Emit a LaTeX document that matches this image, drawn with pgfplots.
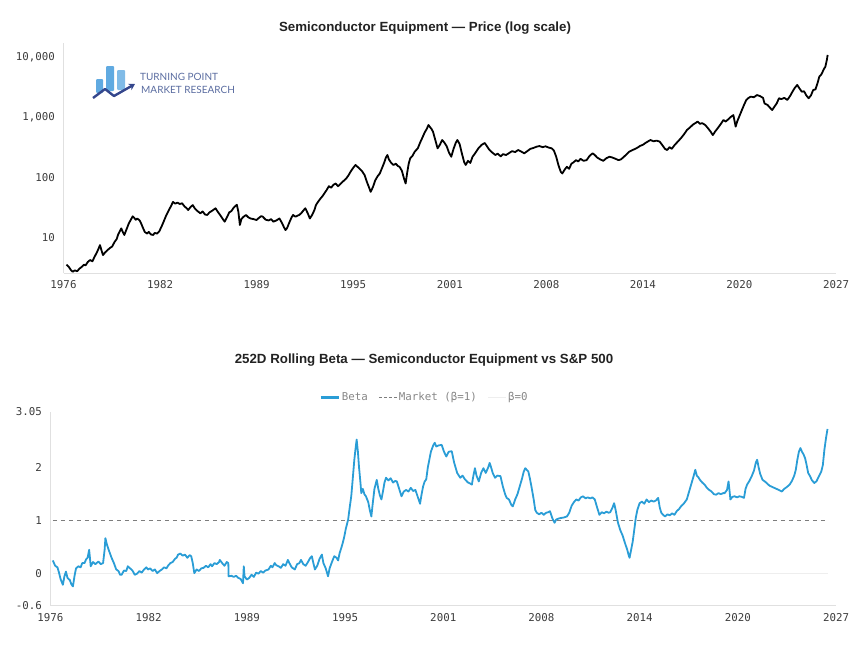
\documentclass[border=0pt]{standalone}
\usepackage{pgfplots}
\pgfplotsset{compat=1.18}
\usepackage{pgfplotstable}
\usetikzlibrary{arrows.meta}
\usepackage{fontspec}
\setmainfont{Liberation Sans}
\setmonofont{DejaVu Sans Mono}
\newfontfamily\logofont{Lato}

\definecolor{betablue}{RGB}{42,157,214}
\definecolor{axisgray}{RGB}{224,224,224}
\definecolor{ticktext}{RGB}{60,60,60}
\definecolor{legtext}{RGB}{135,135,135}
\definecolor{refdash}{RGB}{125,125,125}
\definecolor{zeroline}{RGB}{238,238,238}
\definecolor{logonavy}{RGB}{52,70,140}
\definecolor{logoblue}{RGB}{96,170,225}
\definecolor{logotext}{RGB}{90,108,160}
\definecolor{titletext}{RGB}{34,34,34}

% Semiconductor equipment index, price level
\pgfplotstableread{
year value
1976.20 3.6
1976.35 3.3
1976.50 2.9
1976.60 2.75
1976.75 2.9
1976.90 2.8
1977.05 3.1
1977.20 3.3
1977.35 3.6
1977.45 3.5
1977.60 4.0
1977.75 4.3
1977.90 4.1
1978.05 4.9
1978.20 5.8
1978.30 6.6
1978.40 7.6
1978.50 6.2
1978.60 5.2
1978.75 5.8
1978.90 6.3
1979.05 6.8
1979.20 7.2
1979.35 8.5
1979.50 9.6
1979.60 11.5
1979.70 12.8
1979.80 14.4
1979.90 12.5
1980.00 11.2
1980.15 14.0
1980.30 17.5
1980.45 20.5
1980.55 22.8
1980.65 21.5
1980.75 20.0
1980.85 21.0
1981.00 19.6
1981.10 17.5
1981.25 14.2
1981.35 12.5
1981.50 11.8
1981.60 12.6
1981.75 11.4
1981.90 11.2
1982.00 12.1
1982.15 11.8
1982.30 12.9
1982.45 15.5
1982.60 19.0
1982.75 23.5
1982.90 28.0
1983.05 33.0
1983.20 39.5
1983.35 37.0
1983.50 38.5
1983.65 36.5
1983.80 37.5
1983.95 33.5
1984.10 31.0
1984.20 29.0
1984.35 32.5
1984.50 35.0
1984.65 30.5
1984.80 28.0
1985.00 25.6
1985.15 27.5
1985.30 24.5
1985.45 24.0
1985.60 26.5
1985.80 28.5
1986.00 31.0
1986.15 27.0
1986.30 24.0
1986.45 21.0
1986.60 18.6
1986.75 22.0
1986.90 26.5
1987.05 28.0
1987.20 32.0
1987.40 35.5
1987.50 27.0
1987.60 16.4
1987.70 20.5
1987.80 22.0
1988.00 24.0
1988.15 22.0
1988.30 21.0
1988.50 20.5
1988.70 19.8
1988.85 21.5
1989.00 23.0
1989.10 22.5
1989.30 20.0
1989.50 19.5
1989.65 20.5
1989.80 18.6
1990.00 19.5
1990.20 21.0
1990.35 18.0
1990.50 15.0
1990.60 13.5
1990.70 14.5
1990.85 18.0
1991.00 22.0
1991.10 24.0
1991.25 22.5
1991.40 23.5
1991.50 24.0
1991.65 26.0
1991.80 29.0
1991.90 31.0
1992.05 26.0
1992.20 21.0
1992.35 24.0
1992.50 29.0
1992.60 35.0
1992.75 40.0
1992.90 45.0
1993.05 50.0
1993.20 57.0
1993.30 62.0
1993.45 72.0
1993.60 68.0
1993.75 76.0
1993.90 80.0
1994.05 72.0
1994.20 78.0
1994.35 85.0
1994.50 92.0
1994.60 97.0
1994.75 110.0
1994.90 128.0
1995.05 145.0
1995.20 162.0
1995.35 150.0
1995.50 138.0
1995.65 126.0
1995.80 110.0
1995.95 85.0
1996.10 68.0
1996.20 58.0
1996.35 70.0
1996.50 90.0
1996.65 105.0
1996.80 117.0
1996.95 145.0
1997.10 180.0
1997.20 215.0
1997.30 237.0
1997.40 200.0
1997.55 175.0
1997.70 162.0
1997.85 170.0
1998.00 155.0
1998.10 151.0
1998.25 130.0
1998.40 95.0
1998.50 80.0
1998.60 120.0
1998.70 170.0
1998.80 209.0
1998.95 230.0
1999.10 270.0
1999.30 306.0
1999.45 380.0
1999.60 460.0
1999.75 560.0
1999.90 650.0
2000.00 746.0
2000.10 690.0
2000.20 640.0
2000.30 576.0
2000.45 420.0
2000.60 306.0
2000.75 350.0
2000.90 420.0
2001.05 380.0
2001.20 330.0
2001.35 260.0
2001.50 222.0
2001.65 300.0
2001.80 380.0
2001.90 420.0
2002.05 360.0
2002.20 250.0
2002.35 180.0
2002.45 162.0
2002.60 190.0
2002.75 175.0
2002.90 222.0
2003.10 260.0
2003.30 310.0
2003.50 350.0
2003.70 375.0
2003.85 330.0
2004.00 290.0
2004.20 260.0
2004.40 237.0
2004.55 250.0
2004.75 225.0
2004.90 245.0
2005.10 237.0
2005.30 255.0
2005.50 275.0
2005.70 265.0
2005.90 287.0
2006.10 270.0
2006.30 253.0
2006.50 275.0
2006.70 300.0
2006.90 310.0
2007.10 325.0
2007.30 334.0
2007.50 320.0
2007.70 330.0
2007.90 315.0
2008.10 306.0
2008.25 280.0
2008.40 222.0
2008.55 160.0
2008.70 125.0
2008.80 117.0
2008.95 135.0
2009.10 151.0
2009.25 140.0
2009.40 170.0
2009.55 180.0
2009.70 195.0
2009.85 185.0
2010.00 205.0
2010.20 190.0
2010.40 195.0
2010.60 230.0
2010.80 253.0
2010.95 235.0
2011.10 215.0
2011.30 200.0
2011.50 190.0
2011.70 210.0
2011.90 222.0
2012.10 215.0
2012.30 205.0
2012.50 195.0
2012.65 200.0
2012.80 215.0
2013.00 240.0
2013.20 269.0
2013.40 285.0
2013.60 300.0
2013.80 320.0
2013.90 334.0
2014.10 350.0
2014.30 380.0
2014.45 400.0
2014.60 420.0
2014.80 400.0
2015.00 410.0
2015.20 396.0
2015.40 340.0
2015.55 300.0
2015.70 287.0
2015.85 320.0
2016.00 300.0
2016.20 350.0
2016.40 396.0
2016.60 450.0
2016.80 520.0
2017.00 617.0
2017.20 680.0
2017.40 760.0
2017.55 800.0
2017.70 850.0
2017.85 780.0
2018.00 800.0
2018.20 746.0
2018.40 650.0
2018.55 580.0
2018.70 508.0
2018.85 580.0
2019.00 650.0
2019.20 760.0
2019.40 902.0
2019.55 850.0
2019.70 920.0
2019.85 1000.0
2020.05 1090.0
2020.20 700.0
2020.30 850.0
2020.45 1050.0
2020.60 1300.0
2020.75 1600.0
2020.90 1940.0
2021.05 2100.0
2021.20 2200.0
2021.40 2150.0
2021.60 2340.0
2021.80 2250.0
2022.00 2100.0
2022.10 1700.0
2022.30 1600.0
2022.45 1450.0
2022.60 1320.0
2022.75 1500.0
2022.90 1700.0
2023.05 2070.0
2023.20 2000.0
2023.40 2100.0
2023.60 1940.0
2023.80 2300.0
2023.95 2700.0
2024.10 3100.0
2024.25 3440.0
2024.40 3000.0
2024.55 2660.0
2024.70 2700.0
2024.85 2300.0
2025.00 2070.0
2025.15 2300.0
2025.30 2840.0
2025.45 2900.0
2025.60 3800.0
2025.70 4710.0
2025.85 5200.0
2026.00 6300.0
2026.10 6900.0
2026.20 9000.0
2026.25 10800.0
}\pricetable

% 252-day rolling beta against the S&P 500
\pgfplotstableread{
year beta
1976.15 0.25
1976.30 0.15
1976.45 0.12
1976.55 0.02
1976.65 -0.10
1976.80 -0.21
1976.90 -0.05
1977.00 0.04
1977.10 -0.08
1977.25 -0.12
1977.35 -0.20
1977.45 -0.24
1977.55 -0.05
1977.65 0.10
1977.80 0.14
1977.95 0.12
1978.05 0.20
1978.20 0.20
1978.30 0.27
1978.40 0.30
1978.50 0.45
1978.55 0.30
1978.60 0.14
1978.75 0.22
1978.90 0.18
1979.10 0.23
1979.25 0.18
1979.40 0.20
1979.50 0.45
1979.55 0.67
1979.65 0.55
1979.80 0.42
1979.95 0.30
1980.10 0.20
1980.25 0.08
1980.40 0.05
1980.50 -0.02
1980.60 -0.02
1980.75 0.06
1980.90 0.05
1981.00 0.14
1981.15 0.10
1981.30 0.06
1981.45 -0.02
1981.60 0.00
1981.75 0.05
1981.90 0.02
1982.05 0.08
1982.20 0.12
1982.30 0.08
1982.45 0.10
1982.60 0.05
1982.75 0.08
1982.90 0.01
1983.05 0.05
1983.20 0.08
1983.35 0.12
1983.50 0.10
1983.60 0.15
1983.75 0.20
1983.90 0.22
1984.05 0.28
1984.15 0.30
1984.25 0.36
1984.40 0.38
1984.55 0.34
1984.70 0.36
1984.85 0.30
1985.00 0.35
1985.10 0.33
1985.20 0.20
1985.30 0.01
1985.45 0.08
1985.60 0.05
1985.75 0.10
1985.90 0.11
1986.05 0.15
1986.20 0.12
1986.35 0.18
1986.45 0.14
1986.60 0.20
1986.75 0.18
1986.90 0.22
1986.95 0.26
1987.10 0.20
1987.25 0.15
1987.40 0.22
1987.50 0.20
1987.52 -0.05
1987.70 -0.04
1987.85 -0.06
1988.00 -0.04
1988.15 -0.08
1988.30 -0.10
1988.45 -0.18
1988.50 0.14
1988.55 -0.05
1988.70 -0.11
1988.85 -0.08
1989.00 -0.02
1989.15 -0.06
1989.30 0.02
1989.45 0.00
1989.60 0.05
1989.75 0.02
1989.90 0.06
1990.10 0.08
1990.25 0.15
1990.35 0.12
1990.50 0.20
1990.60 0.16
1990.75 0.14
1990.90 0.11
1991.05 0.18
1991.20 0.15
1991.35 0.26
1991.45 0.20
1991.60 0.12
1991.80 0.08
1991.95 0.18
1992.10 0.20
1992.20 0.26
1992.35 0.18
1992.50 0.15
1992.65 0.22
1992.80 0.30
1992.90 0.33
1993.00 0.20
1993.10 0.08
1993.25 0.15
1993.40 0.28
1993.55 0.36
1993.65 0.20
1993.80 0.10
1993.95 -0.05
1994.05 0.10
1994.20 0.22
1994.35 0.33
1994.50 0.30
1994.60 0.25
1994.70 0.39
1994.80 0.48
1994.90 0.58
1995.00 0.70
1995.10 0.85
1995.25 1.02
1995.35 1.25
1995.45 1.46
1995.55 1.80
1995.65 2.15
1995.72 2.34
1995.80 2.53
1995.88 2.30
1995.95 2.02
1996.05 1.70
1996.10 1.52
1996.20 1.60
1996.30 1.50
1996.40 1.46
1996.55 1.35
1996.65 1.20
1996.75 1.08
1996.85 1.35
1996.95 1.60
1997.10 1.77
1997.20 1.60
1997.30 1.48
1997.40 1.40
1997.50 1.55
1997.60 1.72
1997.70 1.81
1997.85 1.76
1998.00 1.80
1998.15 1.72
1998.30 1.75
1998.40 1.74
1998.55 1.60
1998.70 1.46
1998.85 1.55
1999.00 1.58
1999.15 1.55
1999.30 1.62
1999.45 1.56
1999.60 1.58
1999.75 1.45
1999.90 1.32
2000.00 1.50
2000.10 1.65
2000.20 1.74
2000.30 1.78
2000.40 2.00
2000.50 2.15
2000.60 2.30
2000.75 2.42
2000.85 2.47
2000.95 2.40
2001.10 2.42
2001.30 2.43
2001.45 2.30
2001.60 2.21
2001.75 2.30
2001.95 2.31
2002.10 2.10
2002.30 1.90
2002.50 1.81
2002.65 1.85
2002.80 1.78
2003.00 1.72
2003.15 1.70
2003.25 1.68
2003.35 1.85
2003.45 1.99
2003.55 1.85
2003.70 1.74
2003.85 1.90
2004.00 1.99
2004.15 1.90
2004.30 2.00
2004.40 2.09
2004.50 2.00
2004.60 1.90
2004.75 1.81
2004.90 1.85
2005.10 1.84
2005.25 1.65
2005.40 1.50
2005.50 1.43
2005.65 1.40
2005.80 1.30
2005.90 1.27
2006.05 1.40
2006.20 1.50
2006.35 1.65
2006.50 1.80
2006.60 1.92
2006.70 1.99
2006.90 1.93
2007.00 1.80
2007.10 1.65
2007.25 1.40
2007.35 1.20
2007.45 1.15
2007.60 1.12
2007.75 1.15
2007.90 1.11
2008.05 1.15
2008.20 1.16
2008.30 1.18
2008.45 1.05
2008.60 0.96
2008.70 1.02
2008.85 1.04
2009.00 1.05
2009.20 1.06
2009.40 1.08
2009.55 1.15
2009.70 1.28
2009.85 1.35
2010.00 1.40
2010.15 1.38
2010.30 1.44
2010.45 1.46
2010.60 1.42
2010.75 1.44
2010.90 1.42
2011.05 1.44
2011.20 1.40
2011.35 1.25
2011.50 1.11
2011.65 1.16
2011.80 1.14
2011.95 1.17
2012.10 1.15
2012.20 1.16
2012.35 1.25
2012.45 1.33
2012.55 1.20
2012.70 0.96
2012.85 0.82
2013.00 0.72
2013.15 0.58
2013.30 0.45
2013.40 0.34
2013.45 0.30
2013.55 0.45
2013.65 0.60
2013.75 0.82
2013.85 1.05
2013.95 1.20
2014.10 1.33
2014.25 1.36
2014.40 1.32
2014.55 1.40
2014.70 1.35
2014.85 1.38
2015.00 1.36
2015.15 1.38
2015.30 1.43
2015.40 1.25
2015.50 1.15
2015.65 1.10
2015.75 1.08
2015.90 1.12
2016.05 1.10
2016.20 1.14
2016.35 1.11
2016.50 1.18
2016.65 1.22
2016.80 1.28
2016.95 1.32
2017.15 1.40
2017.30 1.55
2017.45 1.70
2017.60 1.85
2017.70 1.96
2017.80 1.85
2017.90 1.82
2018.00 1.77
2018.15 1.72
2018.30 1.68
2018.45 1.62
2018.60 1.58
2018.75 1.55
2018.90 1.50
2019.05 1.49
2019.20 1.52
2019.35 1.50
2019.50 1.52
2019.60 1.52
2019.75 1.58
2019.85 1.74
2019.92 1.55
2019.97 1.40
2020.10 1.45
2020.25 1.46
2020.40 1.44
2020.55 1.46
2020.70 1.45
2020.85 1.43
2020.95 1.60
2021.05 1.68
2021.20 1.75
2021.35 1.84
2021.50 1.95
2021.62 2.10
2021.70 2.15
2021.80 2.00
2021.90 1.88
2022.05 1.77
2022.20 1.74
2022.35 1.70
2022.50 1.66
2022.65 1.64
2022.80 1.62
2022.95 1.60
2023.10 1.58
2023.30 1.55
2023.45 1.60
2023.60 1.63
2023.80 1.68
2023.95 1.75
2024.10 1.85
2024.20 1.96
2024.30 2.15
2024.40 2.30
2024.50 2.37
2024.60 2.30
2024.70 2.25
2024.80 2.18
2024.90 2.05
2025.00 1.90
2025.10 1.85
2025.25 1.76
2025.40 1.71
2025.55 1.75
2025.70 1.84
2025.85 1.93
2025.95 2.05
2026.05 2.34
2026.15 2.55
2026.25 2.73
}\betatable

\pgfplotsset{
  panel/.style={
    scale only axis,
    axis x line*=bottom,
    axis y line*=left,
    axis line style={draw=axisgray, line width=0.8pt, -},
    major tick length=0pt,
    minor tick length=0pt,
    tick style={draw=none},
    xmin=1976, xmax=2026.8,
    xtick={1976,1982.35,1988.7,1995.05,2001.4,2007.75,2014.1,2020.45,2026.8},
    xticklabels={1976,1982,1989,1995,2001,2008,2014,2020,2027},
    ticklabel style={font=\ttfamily\fontsize{10.8}{12}\selectfont, text=ticktext},
    xticklabel style={yshift=-4pt},
    yticklabel style={xshift=-5pt},
    clip=false,
  },
}

\begin{document}
\begin{tikzpicture}[x=1pt,y=1pt]
\path[use as bounding box] (0,0) rectangle (860,-645);

% price panel
\node[font=\bfseries\fontsize{13.3}{15}\selectfont, text=titletext] at (425,-28)
  {Semiconductor Equipment — Price (log scale)};
\begin{axis}[panel,
  at={(63.5pt,-273pt)}, anchor=south west,
  width=772.5pt, height=230pt,
  ymode=log, ymin=2.62, ymax=17060,
  ytick={10,100,1000,10000},
  yticklabels={10,100,{1,000},{10,000}},
]
\addplot[black, line width=1.8pt, line join=round] table[x=year, y=value] {\pricetable};
\end{axis}

% logo in the price panel
\fill[logoblue, rounded corners=1pt] (96,-93) rectangle (103,-79);
\fill[logoblue, rounded corners=1pt] (106,-91) rectangle (114,-66);
\fill[logoblue!80, rounded corners=1pt] (117,-90) rectangle (125,-70);
\draw[logonavy, line width=2.4pt, line join=round, -{Stealth[length=6pt,width=7pt]}]
  (93,-98) -- (105,-89) -- (114,-96) -- (135,-84);
\node[anchor=west, inner sep=0pt, text=logotext, font=\logofont\fontsize{10}{11}\selectfont] at (140,-77) {TURNING POINT};
\node[anchor=west, inner sep=0pt, text=logotext, font=\logofont\fontsize{10}{11}\selectfont] at (141,-90) {MARKET RESEARCH};

% beta panel
\node[font=\bfseries\fontsize{13.3}{15}\selectfont, text=titletext] at (424,-360)
  {252D Rolling Beta — Semiconductor Equipment vs S\&P 500};
\begin{axis}[panel,
  at={(50.5pt,-605.5pt)}, anchor=south west,
  width=785.5pt, height=193.5pt,
  ymin=-0.6, ymax=3.05,
  ytick={-0.6,0,1,2,3.05},
  yticklabels={-0.6,0,1,2,3.05},
  legend columns=3,
  legend style={at={(0.4755,1)}, anchor=south, yshift=6pt, draw=none, fill=none,
    font=\ttfamily\fontsize{10.8}{12}\selectfont, text=legtext,
    nodes={inner sep=1.5pt},
    /tikz/every even column/.append style={column sep=9pt}},
  legend image code/.code={\draw[#1] (0pt,0pt) -- (18pt,0pt);},
]
\addlegendimage{betablue, line width=3.5pt}
\addlegendentry{Beta}
\addlegendimage{refdash, line width=1pt, dash pattern=on 3pt off 2pt}
\addlegendentry{Market (β=1)}
\addlegendimage{zeroline, line width=1.2pt}
\addlegendentry{β=0}
\addplot[zeroline, line width=0.8pt, forget plot] coordinates {(1976.15,0) (2026.25,0)};
\addplot[refdash, line width=0.9pt, dash pattern=on 4pt off 4pt, forget plot] coordinates {(1976.15,1) (2026.25,1)};
\addplot[betablue, line width=1.8pt, line join=round, forget plot] table[x=year, y=beta] {\betatable};
\end{axis}
\end{tikzpicture}
\end{document}
